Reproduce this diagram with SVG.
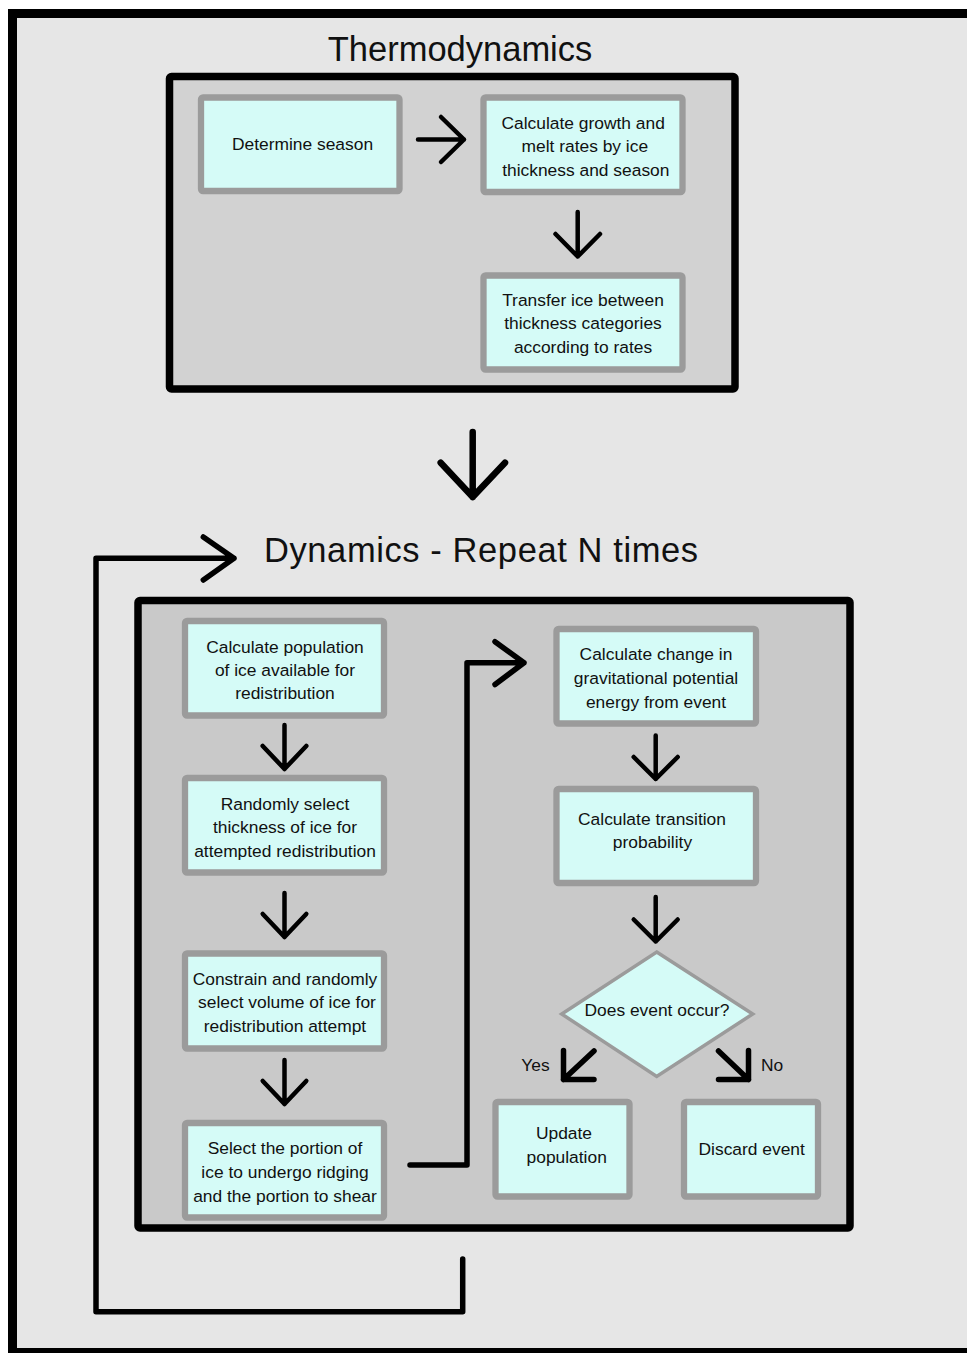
<svg xmlns="http://www.w3.org/2000/svg" width="967" height="1353" viewBox="0 0 967 1353">
<style>
.frame{fill:#e6e6e6;stroke:#000;stroke-width:9}
.panel{stroke:#000;stroke-width:7.5;stroke-linejoin:round}
.node rect{fill:#d5fbf7;stroke:#9b9b9b;stroke-width:6.3}
.node polygon{fill:#d5fbf7;stroke:#9b9b9b;stroke-width:3.5}
text{font-family:"Liberation Sans",Arial,sans-serif;fill:#111;text-anchor:middle}
.t{font-size:17.4px}
.title{font-size:34.5px}
.conn path{fill:none;stroke:#000;stroke-linecap:round;stroke-linejoin:round}
.s{stroke-width:4.5}
.m{stroke-width:5.5}
.b{stroke-width:6.5}
</style>
<rect x="0" y="0" width="967" height="1353" fill="#fff"/>
<rect class="frame" x="12.5" y="13.5" width="975" height="1339"/>
<g id="thermo-panel">
<text class="title" x="460" y="61">Thermodynamics</text>
<rect class="panel" x="169.5" y="76.5" width="565.5" height="312.5" rx="2" fill="#d2d2d2"/>
</g>
<g id="dyn-panel">
<text class="title" x="481" y="562" textLength="434" lengthAdjust="spacing">Dynamics - Repeat N times</text>
<rect class="panel" x="138" y="600.5" width="712" height="627.5" rx="2" fill="#c9c9c9"/>
</g>
<g id="n-season" class="node">
<rect x="201" y="97.5" width="198.5" height="93.5" rx="2"/>
<text class="t" x="302.5" y="150">Determine season</text>
</g>
<g id="n-growth" class="node">
<rect x="483.5" y="97.5" width="199" height="94.5" rx="2"/>
<text class="t" x="583.2" y="129">Calculate growth and</text>
<text class="t" x="584.8" y="152.3">melt rates by ice</text>
<text class="t" x="585.8" y="175.7">thickness and season</text>
</g>
<g id="n-transfer" class="node">
<rect x="483.5" y="275.5" width="199" height="94" rx="2"/>
<text class="t" x="583" y="305.7">Transfer ice between</text>
<text class="t" x="583" y="329.3">thickness categories</text>
<text class="t" x="583" y="352.7">according to rates</text>
</g>
<g id="n-pop" class="node">
<rect x="185" y="621" width="199" height="94.5" rx="2"/>
<text class="t" x="285" y="652.7">Calculate population</text>
<text class="t" x="285" y="676">of ice available for</text>
<text class="t" x="285" y="699.3">redistribution</text>
</g>
<g id="n-thick" class="node">
<rect x="185" y="778" width="199" height="94.5" rx="2"/>
<text class="t" x="285" y="810">Randomly select</text>
<text class="t" x="285" y="833">thickness of ice for</text>
<text class="t" x="285" y="856.7">attempted redistribution</text>
</g>
<g id="n-vol" class="node">
<rect x="185" y="953.5" width="199" height="95" rx="2"/>
<text class="t" x="285" y="985">Constrain and randomly</text>
<text class="t" x="287" y="1008.3">select volume of ice for</text>
<text class="t" x="285" y="1031.7">redistribution attempt</text>
</g>
<g id="n-portion" class="node">
<rect x="185" y="1123" width="199" height="94.5" rx="2"/>
<text class="t" x="285" y="1154.3">Select the portion of</text>
<text class="t" x="285" y="1178.3">ice to undergo ridging</text>
<text class="t" x="285" y="1201.7">and the portion to shear</text>
</g>
<g id="n-energy" class="node">
<rect x="556.5" y="629" width="199.5" height="94.5" rx="2"/>
<text class="t" x="656" y="660">Calculate change in</text>
<text class="t" x="656" y="684.3">gravitational potential</text>
<text class="t" x="656" y="707.5">energy from event</text>
</g>
<g id="n-prob" class="node">
<rect x="556.5" y="789" width="199.5" height="94" rx="2"/>
<text class="t" x="652" y="824.5">Calculate transition</text>
<text class="t" x="652.5" y="848.3">probability</text>
</g>
<g id="n-decision" class="node">
<polygon points="656.7,952 752.7,1014 656.7,1076.5 561.7,1014"/>
<text class="t" x="657" y="1016">Does event occur?</text>
</g>
<g id="n-update" class="node">
<rect x="495.5" y="1102" width="134" height="94.5" rx="2"/>
<text class="t" x="564" y="1139.3">Update</text>
<text class="t" x="566.7" y="1162.7">population</text>
</g>
<g id="n-discard" class="node">
<rect x="684" y="1102" width="134" height="94.5" rx="2"/>
<text class="t" x="751.7" y="1155">Discard event</text>
</g>
<g id="labels">
<text class="t" x="535.5" y="1071">Yes</text>
<text class="t" x="772" y="1071">No</text>
</g>
<g id="connectors" class="conn">
<path class="s" d="M418,139.5 H464 M441,117 L464,139.5 L441,162"/>
<path class="s" d="M577.7,212 V256.5 M555.5,234 L577.7,256.5 L600,234"/>
<path class="b" d="M472.7,432 V497 M440.7,462.7 L472.7,497 L505,462.7"/>
<path class="s" d="M284.5,725 V769 M262.7,746 L284.5,769 L306.3,746"/>
<path class="s" d="M284.5,893 V937 M262.7,914 L284.5,937 L306.3,914"/>
<path class="s" d="M284.5,1060 V1104 M262.7,1081 L284.5,1104 L306.3,1081"/>
<path class="m" d="M410,1165 H467 V662.7 H524 M495,641.7 L524,662.7 L495,684.5"/>
<path class="s" d="M655.7,735.5 V779 M633.7,757 L655.7,779 L677.7,757"/>
<path class="s" d="M655.7,897 V941.5 M633.7,919.5 L655.7,941.5 L677.7,919.5"/>
<path class="m" d="M594,1051 L563.5,1079.5 M563.5,1050.5 V1079.5 H594"/>
<path class="m" d="M718.5,1051 L748.5,1079.5 M748.5,1050.5 V1079.5 H718.5"/>
<path class="m" d="M462.7,1259 V1311.7 H96 V558.3 H234 M203.3,537 L234,558.3 L203.3,580"/>
</g>
</svg>
